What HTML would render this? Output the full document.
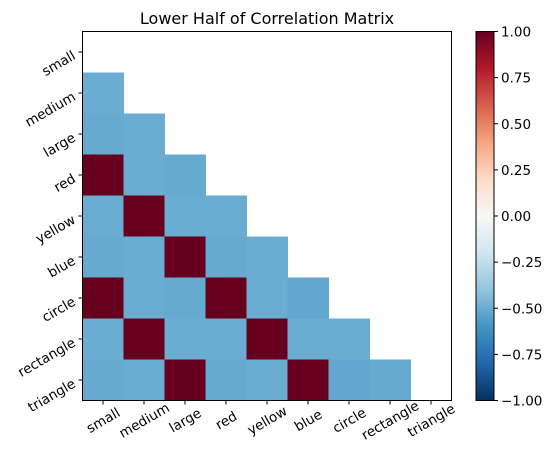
<!DOCTYPE html>
<html><head><meta charset="utf-8"><style>
body{margin:0;background:#fff;}
svg{display:block;font-family:"DejaVu Sans","Liberation Sans",sans-serif;}
</style></head><body>
<svg id="chart" width="556" height="470">
<defs>
<linearGradient id="cb" x1="0" y1="1" x2="0" y2="0">
<stop offset="0" stop-color="#053061"/><stop offset="0.1" stop-color="#2166ac"/><stop offset="0.2" stop-color="#4393c3"/><stop offset="0.3" stop-color="#92c5de"/><stop offset="0.4" stop-color="#d1e5f0"/><stop offset="0.5" stop-color="#f7f7f7"/><stop offset="0.6" stop-color="#fddbc7"/><stop offset="0.7" stop-color="#f4a582"/><stop offset="0.8" stop-color="#d6604d"/><stop offset="0.9" stop-color="#b2182b"/><stop offset="1" stop-color="#67001f"/>
</linearGradient>
</defs>
<text x="267" y="24" font-size="16" text-anchor="middle">Lower Half of Correlation Matrix</text>
<g id="cells"></g>
<rect x="82.5" y="31.5" width="369" height="369" fill="none" stroke="#000" stroke-width="1"/>
<g id="ticks"></g>
<rect x="476" y="31.5" width="18" height="369" fill="url(#cb)" stroke="#000" stroke-width="1"/>
<g id="cbticks"></g>
</svg>
<script>
const labels = ["small","medium","large","red","yellow","blue","circle","rectangle","triangle"];
const lowerRows = [
 [],
 [-0.5],
 [-0.51,-0.5],
 [1,-0.5,-0.51],
 [-0.5,1,-0.5,-0.5],
 [-0.51,-0.5,1,-0.51,-0.5],
 [1,-0.5,-0.51,1,-0.5,-0.52],
 [-0.5,1,-0.5,-0.5,1,-0.5,-0.5],
 [-0.51,-0.5,1,-0.51,-0.5,1,-0.52,-0.51]
];
const cbTicks = [1,0.75,0.5,0.25,0,-0.25,-0.5,-0.75,-1];
const NS="http://www.w3.org/2000/svg";
const x0=82.5,y0=31.5,size=369,n=labels.length,cw=size/n;
const xPos=j=>x0+j*cw, yPos=i=>y0+i*cw;
const cbY=v=>y0+(1-v)/2*size;
const stops=["#67001f","#b2182b","#d6604d","#f4a582","#fddbc7","#f7f7f7","#d1e5f0","#92c5de","#4393c3","#2166ac","#053061"];
function hex(h){return [1,3,5].map(k=>parseInt(h.substr(k,2),16));}
function color(v){
 const t=Math.max(0,Math.min(10,(1-v)/2*10));const i=Math.min(9,Math.floor(t)),f=t-i;
 const a=hex(stops[i]),b=hex(stops[i+1]);
 return "rgb("+a.map((c,k)=>Math.round(c+(b[k]-c)*f)).join(",")+")";
}
const cells=document.getElementById("cells");
lowerRows.forEach((row,i)=>row.forEach((v,j)=>{
 const r=document.createElementNS(NS,"rect");
 r.setAttribute("x",xPos(j));r.setAttribute("y",yPos(i));
 r.setAttribute("width",cw+0.5);r.setAttribute("height",cw+0.5);
 r.setAttribute("fill",color(v));
 
 
 cells.appendChild(r);
}));
const tg=document.getElementById("ticks");
labels.forEach((lab,k)=>{
 const cx=xPos(k)+cw/2, cy=yPos(k)+cw/2;
 const l1=document.createElementNS(NS,"line");
 l1.setAttribute("x1",cx);l1.setAttribute("x2",cx);l1.setAttribute("y1",400.5);l1.setAttribute("y2",404.5);l1.setAttribute("stroke","#000");
 
 
 tg.appendChild(l1);
 const t1=document.createElementNS(NS,"text");
 t1.setAttribute("x",cx);t1.setAttribute("y",425);t1.setAttribute("font-size","13.5");t1.setAttribute("text-anchor","middle");
 t1.setAttribute("transform","rotate(-30 "+cx+" 420)");t1.textContent=lab;
 
 
 tg.appendChild(t1);
 const l2=document.createElementNS(NS,"line");
 l2.setAttribute("x1",78.5);l2.setAttribute("x2",82.5);l2.setAttribute("y1",cy);l2.setAttribute("y2",cy);l2.setAttribute("stroke","#000");
 
 
 tg.appendChild(l2);
 const t2=document.createElementNS(NS,"text");
 t2.setAttribute("x",74);t2.setAttribute("y",cy+7);t2.setAttribute("font-size","13.5");t2.setAttribute("text-anchor","end");
 t2.setAttribute("transform","rotate(-30 74 "+(cy+2)+")");t2.textContent=lab;
 
 
 tg.appendChild(t2);
});
const cg=document.getElementById("cbticks");
cbTicks.forEach(v=>{
 const y=cbY(v);
 const l=document.createElementNS(NS,"line");
 l.setAttribute("x1",494);l.setAttribute("x2",498);l.setAttribute("y1",y);l.setAttribute("y2",y);l.setAttribute("stroke","#000");
 
 
 cg.appendChild(l);
 const t=document.createElementNS(NS,"text");
 t.setAttribute("x",501);t.setAttribute("y",y+5);t.setAttribute("font-size","13.5");
 t.textContent=(v<0?"\u2212":"")+Math.abs(v).toFixed(2);
 
 
 cg.appendChild(t);
});
</script>
</body></html>
